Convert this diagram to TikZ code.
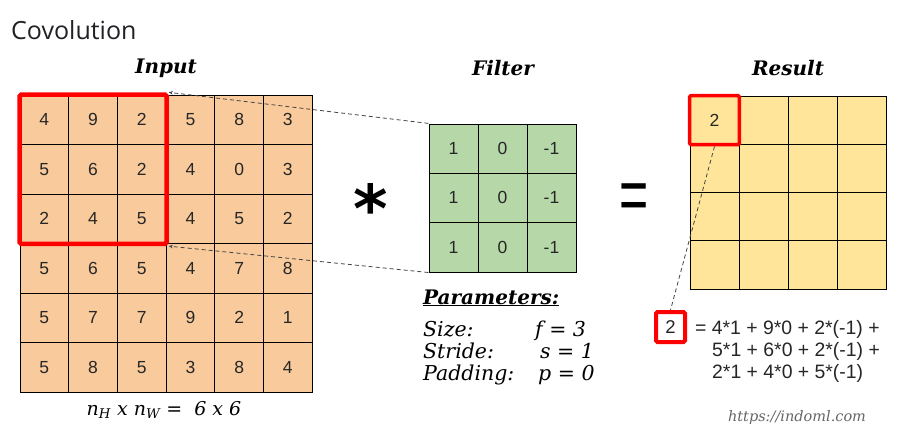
\documentclass[tikz,border=0pt]{standalone}
\usepackage{fontspec}
\usetikzlibrary{fit,arrows.meta}
\newfontfamily\numfont{Liberation Sans}
\newfontfamily\titlefont{Open Sans}
\newfontfamily\dvs{DejaVu Serif}
\newfontfamily\dvsans{DejaVu Sans}
\definecolor{inorange}{HTML}{F9CB9C}
\definecolor{fgreen}{HTML}{B6D7A8}
\definecolor{ryellow}{HTML}{FFE599}
\definecolor{titlegray}{HTML}{202124}
\definecolor{dashgray}{HTML}{444444}
\definecolor{urlgray}{HTML}{666666}
\tikzset{
  cellbase/.style={draw=black, line width=0.8pt, inner sep=0pt, anchor=center,
    font=\numfont\fontsize{17.5}{20}\selectfont, text=black!85},
  incell/.style={cellbase, fill=inorange, minimum width=48.7pt, minimum height=49.5pt},
  fcell/.style={cellbase, fill=fgreen, minimum width=49pt, minimum height=49.3pt},
  rcell/.style={cellbase, fill=ryellow, minimum width=49pt, minimum height=48.25pt},
  redbox/.style={draw=red, inner sep=0pt, rounded corners=1.5pt},
  dashline/.style={draw=dashgray, line width=0.8pt, dash pattern=on 4pt off 3pt},
  heading/.style={font=\dvs\bfseries\itshape\fontsize{20}{24}\selectfont, anchor=center},
  partext/.style={font=\dvs\itshape\fontsize{20.5}{22}\selectfont, anchor=base west, inner sep=0pt},
  formula/.style={font=\numfont\fontsize{19.4}{22}\selectfont, anchor=base west, inner sep=0pt, text=black!85},
}
\begin{document}
\begin{tikzpicture}[x=1pt,y=-1pt]
\path[use as bounding box, fill=white] (0,0) rectangle (918,436);
% title
\node[font=\titlefont\fontsize{25}{28}\selectfont, text=titlegray, anchor=west, inner sep=0pt] (title) at (11,30) {Covolution};
% headings
\node[heading] (hin) at (166,68) {Input};
\node[heading] (hfilt) at (503,68) {Filter};
\node[heading] (hres) at (788,68) {Result};
% input grid
\foreach \row [count=\r] in {{4,9,2,5,8,3},{5,6,2,4,0,3},{2,4,5,4,5,2},{5,6,5,4,7,8},{5,7,7,9,2,1},{5,8,5,3,8,4}}{
  \foreach \v [count=\c] in \row {
    \node[incell] (in-\r-\c) at ({20+48.7*(\c-0.5)},{95+49.5*(\r-0.5)}) {\v};
  }
}
% filter grid
\foreach \r in {1,2,3}{
  \node[fcell] (f-\r-1) at ({429+49*0.5},{124+49.3*(\r-0.5)}) {1};
  \node[fcell] (f-\r-2) at ({429+49*1.5},{124+49.3*(\r-0.5)}) {0};
  \node[fcell] (f-\r-3) at ({429+49*2.5},{124+49.3*(\r-0.5)}) {-1};
}
% result grid
\foreach \r in {1,2,3,4}{
  \foreach \c in {1,2,3,4}{
    \node[rcell] (res-\r-\c) at ({690+49*(\c-0.5)},{96+48.25*(\r-0.5)}) {};
  }
}
\node[font=\numfont\fontsize{17.5}{20}\selectfont, text=black!85] at (res-1-1) {2};
% boxes
\node[redbox, line width=4.5pt, fit=(in-1-1)(in-3-3)] (sel) {};
\node[inner sep=0pt, fit=(f-1-1)(f-3-3)] (filt) {};
\node[redbox, line width=3.5pt, fit=(res-1-1)] (rsel) {};
% connectors
\draw[dashline, -{Stealth[length=4pt,width=3.5pt]}] (filt.north west) -- (sel.north east);
\draw[dashline, -{Stealth[length=4pt,width=3.5pt]}] (filt.south west) -- (sel.south east);
% operators
\node[font=\dvsans\bfseries\fontsize{66}{66}\selectfont, anchor=base, inner sep=0pt] (star) at (371,232) {*};
\node[font=\numfont\fontsize{50}{50}\selectfont, anchor=base, inner sep=0pt] (eq) at (634,220) {\scalebox{1}[1.5]{=}};
% parameters
\node[font=\dvs\bfseries\itshape\fontsize{20}{24}\selectfont, anchor=base west, inner sep=0pt] (ptitle) at (423,304) {\underline{Parameters:}};
\node[partext] (psize) at (423,336) {Size:};
\node[partext] (pstride) at (423,358) {Stride:};
\node[partext] (ppad) at (423,380) {Padding:};
\node[partext] (vf) at (535,336) {f = \oldstylenums{3}};
\node[partext] (vs) at (540,358) {s = \oldstylenums{1}};
\node[partext] (vp) at (538,380) {p = \oldstylenums{0}};
% size label
\node[font=\dvs\itshape\fontsize{19}{22}\selectfont, anchor=center, inner sep=0pt] (dims) at (164,410) {n\textsubscript{H} x n\textsubscript{W} = \ 6 x 6};
% small result box and formula
\node[redbox, line width=4pt, minimum width=29pt, minimum height=30pt, font=\numfont\fontsize{18.5}{20}\selectfont, text=black!85] (small) at (670.5,327) {2};
\draw[dashline] (rsel.south) -- (small.north);
\node[formula] (l1) at (695,334.5) {= 4*1 + 9*0 + 2*(-1) +};
\node[formula] (l2) at (712,356.5) {5*1 + 6*0 + 2*(-1) +};
\node[formula] (l3) at (712,378.5) {2*1 + 4*0 + 5*(-1)};
% url
\node[font=\dvs\itshape\fontsize{14.5}{16}\selectfont, text=urlgray, anchor=center, inner sep=0pt] (url) at (797,417) {https://indoml.com};
\end{tikzpicture}
\end{document}
